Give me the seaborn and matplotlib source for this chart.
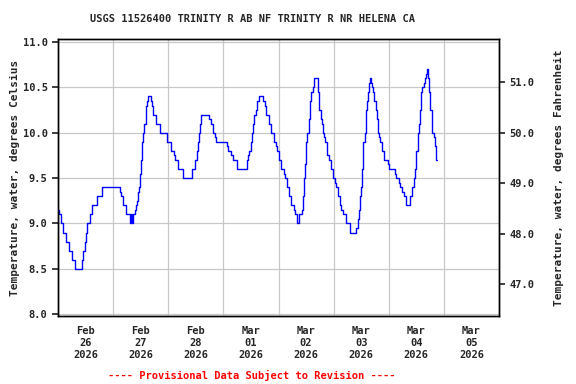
import matplotlib
matplotlib.use("Agg")
import matplotlib.pyplot as plt
import matplotlib.dates as mdates
from matplotlib.ticker import FormatStrFormatter
import numpy as np
import pandas as pd
import seaborn as sns

# ---- data (hours since 2026-02-26 00:00, water temperature in deg C) ----
hours = [0.0, 0.65, 1.5, 2.1, 3.3, 4.7, 5.9, 7.3, 10.5, 11.1, 11.7, 12.3, 12.7, 13.9, 15.0,
         16.9, 19.0, 27.0, 27.6, 28.1, 28.4, 29.6, 31.3, 31.9, 32.2, 32.8, 33.4, 34.0, 34.6,
         34.8, 35.4, 35.7, 36.0, 36.6, 37.2, 37.5, 38.1, 38.3, 38.9, 39.2, 40.7, 40.9, 41.5,
         42.7, 44.2, 47.6, 49.1, 50.5, 50.8, 52.3, 54.4, 58.4, 59.7, 60.3, 60.9, 61.2, 61.8,
         62.1, 65.8, 66.4, 67.3, 68.4, 69.0, 73.4, 74.0, 75.4, 76.0, 78.0, 82.1, 82.7, 83.3,
         83.9, 84.4, 84.7, 85.3, 86.2, 86.8, 87.4, 89.4, 90.0, 90.6, 92.0, 92.9, 94.0, 94.9,
         95.5, 96.4, 97.2, 98.4, 99.0, 99.6, 100.5, 101.3, 102.8, 103.3, 103.9, 105.1, 106.3,
         106.8, 107.1, 107.7, 108.0, 108.6, 109.2, 109.8, 110.3, 110.9, 111.5, 113.0, 113.2,
         113.8, 114.4, 115.0, 115.3, 115.9, 116.2, 117.0, 117.3, 117.9, 118.8, 119.6, 120.5,
         121.1, 121.7, 122.6, 123.4, 124.0, 125.2, 127.2, 129.8, 130.4, 131.0, 131.6, 131.9,
         132.2, 132.4, 132.7, 133.0, 133.6, 133.9, 134.2, 134.5, 135.1, 135.4, 135.6, 135.9,
         136.2, 136.5, 137.1, 137.7, 138.6, 138.9, 139.4, 139.7, 140.3, 140.9, 142.1, 143.5,
         144.1, 146.7, 147.3, 148.5, 149.0, 149.9, 150.5, 151.4, 153.1, 154.3, 154.9, 155.4,
         156.0, 156.6, 157.2, 157.8, 158.1, 158.6, 159.2, 159.8, 160.4, 160.7, 161.0, 161.5,
         161.8, 162.1, 163.0, 163.6, 164.2, 164.5, 165.0]
temps = [9.15, 9.1, 9.0, 8.9, 8.8, 8.7, 8.6, 8.5, 8.6, 8.7, 8.8, 8.9, 9.0, 9.1, 9.2,
         9.3, 9.4, 9.35, 9.3, 9.25, 9.2, 9.1, 9.0, 9.1, 9.0, 9.1, 9.15, 9.2, 9.25,
         9.35, 9.4, 9.55, 9.7, 9.9, 10.0, 10.1, 10.2, 10.3, 10.35, 10.4, 10.35, 10.3, 10.2,
         10.1, 10.0, 9.9, 9.8, 9.75, 9.7, 9.6, 9.5, 9.6, 9.7, 9.8, 9.9, 10.0, 10.1,
         10.2, 10.15, 10.1, 10.0, 9.95, 9.9, 9.85, 9.8, 9.75, 9.7, 9.6, 9.7, 9.75, 9.8,
         9.9, 10.0, 10.1, 10.2, 10.25, 10.35, 10.4, 10.35, 10.3, 10.2, 10.1, 10.0, 9.9, 9.85,
         9.8, 9.7, 9.6, 9.55, 9.5, 9.4, 9.3, 9.2, 9.15, 9.1, 9.0, 9.1, 9.15,
         9.3, 9.5, 9.65, 9.9, 10.0, 10.15, 10.35, 10.45, 10.5, 10.6, 10.55, 10.45,
         10.25, 10.15, 10.1, 10.0, 9.95, 9.9, 9.8, 9.75, 9.7, 9.6, 9.5, 9.45,
         9.4, 9.3, 9.2, 9.15, 9.1, 9.0, 8.9, 8.95, 9.05, 9.15, 9.3, 9.4,
         9.5, 9.6, 9.75, 9.9, 10.0, 10.15, 10.25, 10.35, 10.45, 10.5, 10.55, 10.6,
         10.55, 10.5, 10.45, 10.35, 10.25, 10.15, 10.0, 9.95, 9.9, 9.8, 9.7, 9.65,
         9.6, 9.55, 9.5, 9.45, 9.4, 9.35, 9.3, 9.2, 9.3, 9.4, 9.5, 9.6,
         9.8, 10.0, 10.1, 10.25, 10.45, 10.5, 10.55, 10.6, 10.65, 10.7, 10.6, 10.45,
         10.4, 10.25, 10.0, 9.95, 9.85, 9.7, 9.7]

start = "2026-02-26 00:00"
day_labels = ["Feb\n26\n2026", "Feb\n27\n2026", "Feb\n28\n2026", "Mar\n01\n2026",
              "Mar\n02\n2026", "Mar\n03\n2026", "Mar\n04\n2026", "Mar\n05\n2026"]
celsius_ticks = [8.0, 8.5, 9.0, 9.5, 10.0, 10.5, 11.0]
fahrenheit_ticks = [47.0, 48.0, 49.0, 50.0, 51.0]
title = "USGS 11526400 TRINITY R AB NF TRINITY R NR HELENA CA"
left_label = "Temperature, water, degrees Celsius"
right_label = "Temperature, water, degrees Fahrenheit"
footer = "---- Provisional Data Subject to Revision ----"

# ---- build ----
sns.set_theme(style="white")
plt.rcParams["font.family"] = ["DejaVu Sans Mono", "DejaVu Sans"]
plt.rcParams["font.weight"] = "bold"

t0 = pd.Timestamp(start)
df = pd.DataFrame({"time": t0 + pd.to_timedelta(hours, unit="h"), "temp": temps})

fig = plt.figure(figsize=(5.76, 3.84), dpi=100)
ax = fig.add_axes([58 / 576, 1 - 316 / 384, (499 - 58) / 576, (316 - 39.3) / 384])

sns.lineplot(data=df, x="time", y="temp", ax=ax, color="#0000ff", linewidth=1.0,
             drawstyle="steps-post", estimator=None, legend=False)

ylo, yhi = 7.98, 11.03
ax.set_ylim(ylo, yhi)
ax.set_xlim(t0, t0 + pd.Timedelta(days=8))

ax.xaxis.set_major_locator(mdates.DayLocator())
ax.xaxis.set_major_formatter(plt.NullFormatter())
noon = [mdates.date2num(t0 + pd.Timedelta(hours=12 + 24 * i)) for i in range(len(day_labels))]
ax.set_xticks(noon, minor=True)
ax.set_xticklabels(day_labels, minor=True, fontsize=7.5, fontweight="bold", linespacing=1.25)
ax.tick_params(axis="x", which="minor", length=0, pad=7)
ax.tick_params(axis="x", which="major", length=0)

ax.set_yticks(celsius_ticks)
ax.yaxis.set_major_formatter(FormatStrFormatter("%.1f"))
ax.tick_params(axis="y", which="major", length=4, direction="out", labelsize=7.5, left=True)
for lab in ax.get_yticklabels():
    lab.set_fontweight("bold")

ax.grid(True, which="major", color="#c8c8c8", linewidth=0.9)
ax.set_axisbelow(True)
for s in ax.spines.values():
    s.set_color("black")
    s.set_linewidth(1.0)

ax.set_xlabel("")
ax.set_ylabel(left_label, fontsize=8, fontweight="bold", labelpad=2)

ax2 = ax.twinx()
ax2.set_ylim(ylo * 1.8 + 32, yhi * 1.8 + 32)
ax2.set_yticks(fahrenheit_ticks)
ax2.yaxis.set_major_formatter(FormatStrFormatter("%.1f"))
ax2.tick_params(axis="y", length=4, direction="out", labelsize=7.5, right=True)
for lab in ax2.get_yticklabels():
    lab.set_fontweight("bold")
ax2.set_ylabel(right_label, fontsize=8, fontweight="bold", labelpad=14)
ax2.grid(False)
for s in ax2.spines.values():
    s.set_color("black")
    s.set_linewidth(1.0)

fig.text(252 / 576, 1 - 19 / 384, title, ha="center", va="center", fontsize=7.5, fontweight="bold")
fig.text(252 / 576, 1 - 375 / 384, footer, ha="center", va="center", fontsize=7.5,
         fontweight="bold", color="red")

fig.savefig("out.png", dpi=100)
